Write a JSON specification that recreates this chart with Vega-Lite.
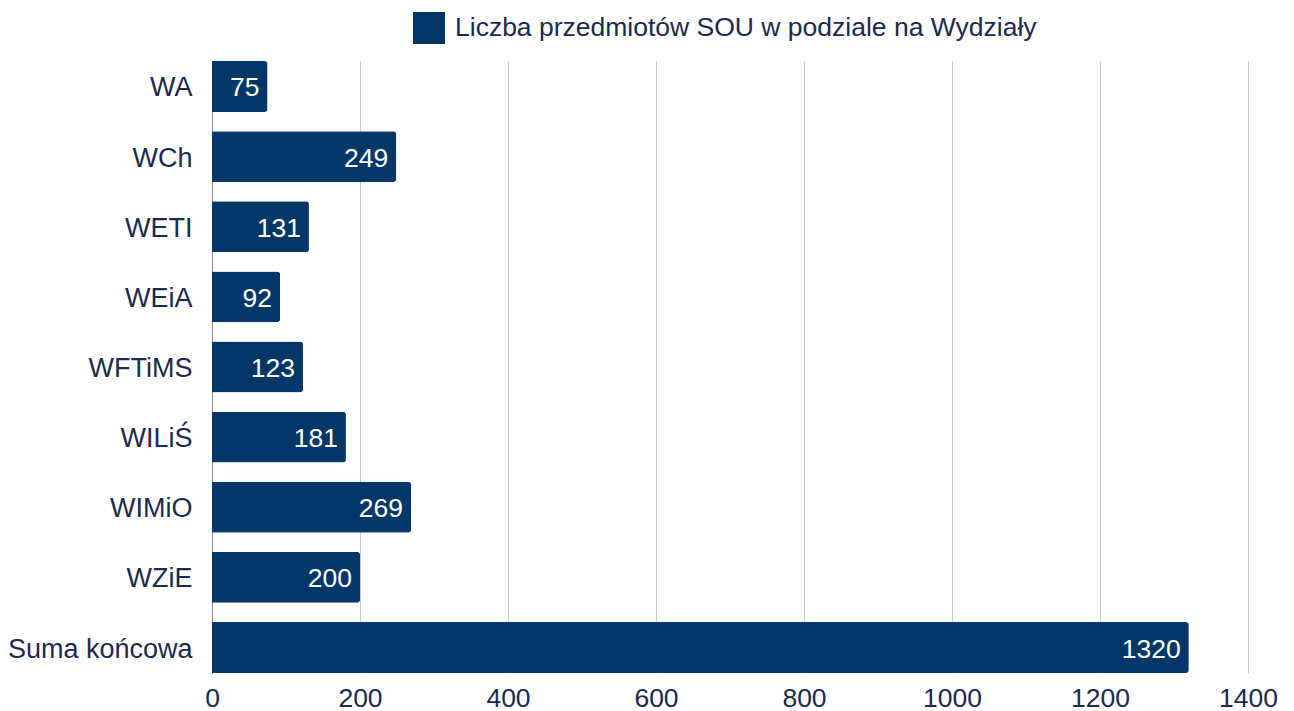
{
  "$schema": "https://vega.github.io/schema/vega-lite/v6.json",
  "width": 1036,
  "height": 612,
  "autosize": "none",
  "padding": {"left": 212, "top": 61, "right": 46, "bottom": 38},
  "background": "white",
  "config": {
    "view": {"stroke": null},
    "font": "Liberation Sans",
    "axis": {"labelFont": "Liberation Sans", "labelColor": "#1B2A4E", "labelFontSize": 27}
  },
  "data": {
    "values": [
      {"wydzial": "WA", "liczba": 75, "seria": "Liczba przedmiotów SOU w podziale na Wydziały"},
      {"wydzial": "WCh", "liczba": 249, "seria": "Liczba przedmiotów SOU w podziale na Wydziały"},
      {"wydzial": "WETI", "liczba": 131, "seria": "Liczba przedmiotów SOU w podziale na Wydziały"},
      {"wydzial": "WEiA", "liczba": 92, "seria": "Liczba przedmiotów SOU w podziale na Wydziały"},
      {"wydzial": "WFTiMS", "liczba": 123, "seria": "Liczba przedmiotów SOU w podziale na Wydziały"},
      {"wydzial": "WILiŚ", "liczba": 181, "seria": "Liczba przedmiotów SOU w podziale na Wydziały"},
      {"wydzial": "WIMiO", "liczba": 269, "seria": "Liczba przedmiotów SOU w podziale na Wydziały"},
      {"wydzial": "WZiE", "liczba": 200, "seria": "Liczba przedmiotów SOU w podziale na Wydziały"},
      {"wydzial": "Suma końcowa", "liczba": 1320, "seria": "Liczba przedmiotów SOU w podziale na Wydziały"}
    ]
  },
  "encoding": {
    "y": {
      "field": "wydzial",
      "type": "nominal",
      "sort": null,
      "title": null,
      "scale": {"paddingInner": 0.273, "paddingOuter": 0},
      "axis": {"ticks": false, "domain": true, "domainColor": "#8A90A6", "domainWidth": 1, "labelPadding": 20, "labelOffset": 2, "labelLimit": 400, "grid": false}
    },
    "x": {
      "field": "liczba",
      "type": "quantitative",
      "title": null,
      "scale": {"domain": [0, 1400], "nice": false},
      "axis": {"values": [0, 200, 400, 600, 800, 1000, 1200, 1400], "format": "d", "labelFlush": false, "labelFontSize": 26.5, "ticks": false, "domain": false, "grid": true, "gridColor": "#C9CCDB", "gridWidth": 1, "labelPadding": 12}
    }
  },
  "layer": [
    {
      "mark": {"type": "bar", "cornerRadiusEnd": 3},
      "encoding": {
        "color": {
          "field": "seria",
          "type": "nominal",
          "scale": {"range": ["#023767"]},
          "legend": {
            "title": null,
            "orient": "none",
            "legendX": 201,
            "legendY": -49,
            "symbolType": "square",
            "symbolSize": 1024,
            "symbolStrokeWidth": 0,
            "labelFontSize": 26.5,
            "labelFont": "Liberation Sans",
            "labelColor": "#1B2A4E",
            "labelOffset": 10,
            "labelLimit": 1000
          }
        }
      }
    },
    {
      "mark": {"type": "text", "align": "right", "baseline": "middle", "dx": -8, "dy": 2, "color": "white", "fontSize": 26.5, "font": "Liberation Sans"},
      "encoding": {"text": {"field": "liczba", "type": "quantitative"}}
    }
  ]
}
